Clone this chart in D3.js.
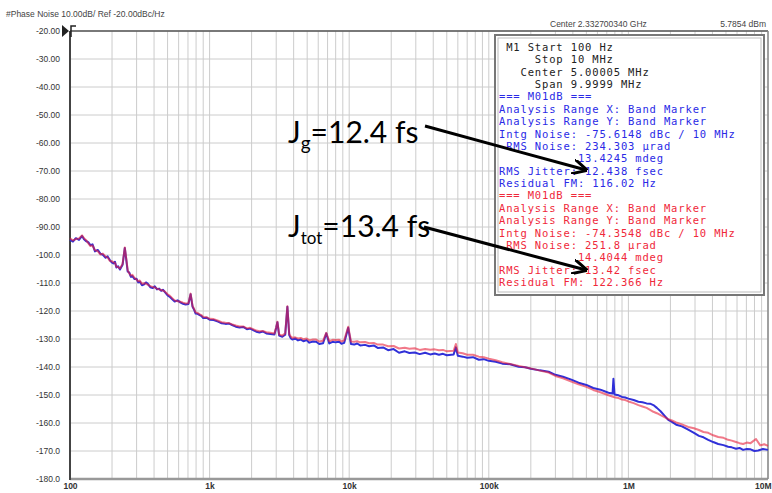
<!DOCTYPE html>
<html>
<head>
<meta charset="utf-8">
<script src="https://cdn.jsdelivr.net/npm/d3@7"></script>
<style>
  body { margin: 0; background: #fff; }
  svg { display: block; }
</style>
</head>
<body>
<div id="chart"></div>
<script>
// phase noise trace, 100 Hz .. 10 MHz offset, two measurements

var xTicks = [100, 1e3, 1e4, 1e5, 1e6, 1e7]
var xTickLabels = ["100", "1k", "10k", "100k", "1M", "10M"]
var yTicks = [-20, -30, -40, -50, -60, -70, -80, -90, -100, -110, -120, -130, -140, -150, -160, -170, -180]
var yTickLabels = ["-20.00", "-30.00", "-40.00", "-50.00", "-60.00", "-70.00", "-80.00", "-90.00",
  "-100.0", "-110.0", "-120.0", "-130.0", "-140.0", "-150.0", "-160.0", "-170.0", "-180.0"]

// [offset freq Hz, dBc/Hz]
var blueTrace = [[100,-94.5],[105,-95.2],[110,-94],[116,-94.6],[122,-93.2],[126,-94.4],[130,-95],[135,-95.4],
  [140,-96.5],[145,-96.2],[151,-98.7],[158,-98.2],[165,-99.5],[172,-99.9],[180,-101],[186,-100.5],
  [193,-101.8],[199,-102.6],[205,-103],[210,-102.4],[215,-104.5],[221,-104],[228,-105.2],[238,-103.5],
  [247,-97.5],[252,-101],[259,-105.9],[266,-106.3],[273,-107.8],[280,-107.5],[290,-108.6],[300,-108.5],
  [308,-109.8],[316,-109.5],[328,-110.8],[340,-110.5],[350,-109.8],[360,-110.2],[376,-111.5],[392,-111.8],
  [405,-111.2],[420,-112.3],[435,-112],[450,-112.8],[463,-112.4],[477,-113.2],[500,-114.4],[520,-115],
  [540,-115.8],[562,-116.6],[590,-116.2],[620,-117],[645,-117.4],[674,-117.7],[705,-117.5],[731,-114],
  [755,-118.5],[775,-119.6],[794,-120.9],[820,-121],[850,-121.5],[875,-121.8],[900,-122.5],[950,-122.4],
  [1000,-123.1],[1070,-123.2],[1150,-123.8],[1220,-124.4],[1300,-124.6],[1380,-124.5],[1450,-125],
  [1540,-125.6],[1638,-125.9],[1740,-125.7],[1850,-126.5],[1950,-126.3],[2050,-126.8],[2160,-127.4],
  [2276,-127.7],[2400,-127.3],[2550,-128],[2720,-128.2],[2913,-128.4],[3000,-126],[3060,-124],
  [3150,-128.8],[3320,-129.2],[3480,-128.5],[3607,-118.5],[3720,-128.6],[3810,-129.7],[3917,-130.2],
  [4100,-129.8],[4300,-130.5],[4500,-130.2],[4700,-130.8],[4950,-130.4],[5179,-131.3],[5500,-130.9],
  [5800,-131],[6100,-131.8],[6500,-131.5],[6850,-128],[7200,-131.6],[7600,-131],[8000,-131.2],
  [8483,-131],[8800,-131.7],[9200,-131.4],[9840,-126],[10300,-131.8],[10860,-132],[11400,-131.6],
  [12000,-132.3],[13000,-132.1],[13895,-132.6],[15000,-132.3],[16000,-133.2],[17500,-133],[19000,-134],
  [20800,-133.6],[22758,-134.9],[25000,-134.4],[27000,-135],[29500,-134.8],[32000,-135.4],[35000,-134.9],
  [38000,-135.5],[41000,-135.2],[43940,-135.6],[47000,-135.3],[50000,-135.8],[56000,-135.5],[58090,-133],
  [60000,-136],[65000,-136.3],[70000,-136.7],[77000,-136.5],[84830,-137.4],[92000,-137.2],[100000,-137.8],
  [112000,-138.1],[125000,-138.8],[142000,-139],[163800,-139.9],[182000,-140.1],[200000,-140.6],
  [232000,-141.2],[268300,-141.7],[300000,-142.8],[340000,-143.5],[390000,-144.5],[439400,-145.6],
  [500000,-146.4],[560000,-147.5],[630000,-148.1],[719700,-149.2],[770000,-149.5],[781000,-144.2],
  [795000,-149.8],[850000,-150.1],[900000,-150.7],[950000,-150.9],[1.0e6,-151.3],[1.09e6,-151.8],
  [1.18e6,-152.4],[1.26e6,-152.6],[1.35e6,-153],[1.43e6,-153.1],[1.51e6,-153.6],[1.6e6,-154.6],
  [1.7e6,-155.8],[1.8e6,-157.2],[1.93e6,-158.9],[2.05e6,-159.6],[2.2e6,-160.6],[2.42e6,-161.2],
  [2.68e6,-162.4],[2.95e6,-163.5],[3.2e6,-164.6],[3.45e6,-165.1],[3.73e6,-166],[4.05e6,-166.8],
  [4.4e6,-167.5],[4.8e6,-167.9],[5.18e6,-168.5],[5.5e6,-168.7],[5.9e6,-169.2],[6.25e6,-168.9],
  [6.63e6,-169.6],[7.05e6,-169.3],[7.5e6,-169.4],[8e6,-170],[8.5e6,-169.8],[9.2e6,-169.3],[1e7,-169.6]]

var redTrace = [[100,-94],[105,-94.8],[110,-94.3],[116,-94.1],[122,-93],[126,-94],[130,-94.6],[135,-95.8],
  [140,-96.8],[145,-96.6],[151,-98.3],[158,-98.6],[165,-99.8],[172,-99.5],[180,-100.6],[186,-100.9],
  [193,-102.1],[199,-102.2],[205,-102.6],[210,-102.8],[215,-104.2],[221,-104.3],[228,-104.8],[238,-103.2],
  [247,-97.3],[252,-100.6],[259,-105.5],[266,-106.6],[273,-107.4],[280,-107.1],[290,-108.2],[300,-108.8],
  [308,-109.4],[316,-109.1],[328,-110.3],[340,-110.1],[350,-110.2],[360,-110.6],[376,-111.1],[392,-111.4],
  [405,-111.6],[420,-112],[435,-112.3],[450,-112.5],[463,-112.7],[477,-113],[500,-114],[520,-114.6],
  [540,-115.4],[562,-116.2],[590,-116.5],[620,-116.7],[645,-117],[674,-117.3],[705,-117.2],[731,-113.8],
  [755,-118.2],[775,-119.3],[794,-120.5],[820,-120.7],[850,-121.2],[875,-121.5],[900,-122.1],[950,-122.2],
  [1000,-122.8],[1070,-122.9],[1150,-123.5],[1220,-124],[1300,-124.2],[1380,-124.3],[1450,-124.8],
  [1540,-125.2],[1638,-125.5],[1740,-125.5],[1850,-126.2],[1950,-126],[2050,-126.5],[2160,-127],
  [2276,-127.2],[2400,-127.1],[2550,-127.6],[2720,-127.8],[2913,-128],[3000,-125.8],[3060,-123.8],
  [3150,-128.4],[3320,-128.8],[3480,-128],[3607,-118.3],[3720,-128.2],[3810,-129.1],[3917,-129.6],
  [4100,-129.4],[4300,-129.8],[4500,-129.6],[4700,-130.1],[4950,-129.8],[5179,-130.5],[5500,-130.2],
  [5800,-130.2],[6100,-130.9],[6500,-130.6],[6850,-127.8],[7200,-130.8],[7600,-130.3],[8000,-130.4],
  [8483,-130.3],[8800,-130.9],[9200,-130.5],[9840,-125.6],[10300,-130.9],[10860,-131],[11400,-130.8],
  [12000,-131.2],[13000,-131.1],[13895,-131.5],[15000,-131.4],[16000,-132],[17500,-132],[19000,-132.6],
  [20800,-132.5],[22758,-133.4],[25000,-133.1],[27000,-133.5],[29500,-133.3],[32000,-133.9],[35000,-133.6],
  [38000,-133.8],[41000,-133.7],[43940,-134],[47000,-133.9],[50000,-134.4],[56000,-134.2],[58090,-131.8],
  [60000,-134.8],[65000,-135.1],[70000,-135.6],[77000,-135.6],[84830,-136.3],[92000,-136.5],[100000,-137],
  [112000,-137.6],[125000,-138.3],[142000,-138.9],[163800,-139.6],[182000,-140.1],[200000,-140.5],
  [232000,-141.3],[268300,-142],[300000,-143.2],[340000,-144],[390000,-145.2],[439400,-146.2],
  [500000,-147.1],[560000,-148.2],[630000,-149],[719700,-150.1],[795000,-150.8],[850000,-151.1],
  [900000,-151.6],[950000,-151.8],[1.0e6,-152.3],[1.09e6,-152.9],[1.18e6,-153.6],[1.26e6,-154.1],
  [1.35e6,-154.6],[1.43e6,-155.3],[1.51e6,-156],[1.6e6,-156.5],[1.7e6,-157.2],[1.8e6,-157.8],
  [1.93e6,-158.6],[2.05e6,-159.1],[2.2e6,-159.8],[2.42e6,-160.5],[2.68e6,-161.4],[2.95e6,-161.9],
  [3.2e6,-162.5],[3.45e6,-163.2],[3.73e6,-163.5],[4.05e6,-164.4],[4.4e6,-165],[4.8e6,-165.3],
  [5.18e6,-166],[5.5e6,-166.3],[5.9e6,-166.8],[6.25e6,-167.2],[6.63e6,-167.5],[7.05e6,-167],
  [7.5e6,-167.2],[8.2e6,-165.7],[8.8e6,-168],[9.4e6,-167.6],[1e7,-168.2]]

var infoBlack = [" M1 Start 100 Hz", "     Stop 10 MHz", "   Center 5.00005 MHz", "     Span 9.9999 MHz"]
var infoBlue = ["=== M01dB ===", "Analysis Range X: Band Marker", "Analysis Range Y: Band Marker",
  "Intg Noise: -75.6148 dBc / 10 MHz", " RMS Noise: 234.303 \u00b5rad", "           13.4245 mdeg",
  "RMS Jitter: 12.438 fsec", "Residual FM: 116.02 Hz"]
var infoRed = ["=== M01dB ===", "Analysis Range X: Band Marker", "Analysis Range Y: Band Marker",
  "Intg Noise: -74.3548 dBc / 10 MHz", " RMS Noise: 251.8 \u00b5rad", "           14.4044 mdeg",
  "RMS Jitter: 13.42 fsec", "Residual FM: 122.366 Hz"]

var W = 772, H = 493
var plotLeft = 70, plotRight = 768, plotTop = 31, plotBottom = 479
var gridColor = "#cccccc"

var svg = d3.select("#chart").append("svg")
  .attr("width", W)
  .attr("height", H)

var x = d3.scaleLog().domain([100, 1e7]).range([plotLeft, plotRight])
var y = d3.scaleLinear().domain([-180, -20]).range([plotBottom, plotTop])

// grid lines: every 1..9 within each decade
var minor = []
for (var d = 100; d < 1e7; d *= 10) {
  for (var k = 1; k < 10; k++) minor.push(d * k)
}
minor.push(1e7)

svg.append("g").selectAll("line").data(minor).join("line")
  .attr("x1", d => x(d)).attr("x2", d => x(d))
  .attr("y1", plotTop).attr("y2", plotBottom)
  .style("stroke", gridColor)
  .style("stroke-width", 1)

svg.append("g").selectAll("line").data(yTicks).join("line")
  .attr("x1", plotLeft).attr("x2", plotRight)
  .attr("y1", d => y(d)).attr("y2", d => y(d))
  .style("stroke", gridColor)
  .style("stroke-width", 1)

// frame
svg.append("line").attr("x1", plotLeft).attr("x2", plotRight).attr("y1", plotTop).attr("y2", plotTop)
  .style("stroke", "#555").style("stroke-width", 1.5)
svg.append("line").attr("x1", plotLeft).attr("x2", plotRight).attr("y1", plotBottom).attr("y2", plotBottom)
  .style("stroke", "#999").style("stroke-width", 2.5)
svg.append("line").attr("x1", plotLeft).attr("x2", plotLeft).attr("y1", plotTop).attr("y2", plotBottom + 1)
  .style("stroke", "#444").style("stroke-width", 2)
svg.append("line").attr("x1", plotRight).attr("x2", plotRight).attr("y1", plotTop).attr("y2", plotBottom)
  .style("stroke", "#888").style("stroke-width", 1.5)

// reference level marker
svg.append("path")
  .attr("d", `M${plotLeft - 8},${y(-20) - 6} L${plotLeft - 1},${y(-20)} L${plotLeft - 8},${y(-20) + 6} Z`)
  .style("fill", "#222")
svg.append("path")
  .attr("d", `M${plotLeft + 1},${y(-20) + 6} L${plotLeft + 1},${y(-20) - 5} L${plotLeft + 6},${y(-20) - 5}`)
  .style("fill", "none").style("stroke", "#222").style("stroke-width", 1.5)

// axes (labels only)
var yAxis = d3.axisLeft(y).tickValues(yTicks).tickSize(0).tickPadding(10)
  .tickFormat((d, i) => yTickLabels[i])
var gy = svg.append("g").attr("transform", `translate(${plotLeft},0)`).call(yAxis)
gy.select(".domain").remove()
gy.selectAll("text").style("font-family", "Liberation Sans, Arial, sans-serif")
  .style("font-size", "8.5px").style("fill", "#333")

var xAxis = d3.axisBottom(x).tickValues(xTicks).tickSize(0).tickPadding(4)
  .tickFormat((d, i) => xTickLabels[i])
var gx = svg.append("g").attr("transform", `translate(0,${plotBottom})`).call(xAxis)
gx.select(".domain").remove()
gx.selectAll("text").style("font-family", "Liberation Sans, Arial, sans-serif")
  .style("font-size", "8.5px").style("font-weight", "bold").style("fill", "#333")
// last label would run off the page edge
gx.selectAll(".tick").filter(d => d === 1e7).select("text").attr("text-anchor", "end").attr("x", 3)

// header texts
svg.append("text").attr("x", 6).attr("y", 17)
  .text("#Phase Noise 10.00dB/ Ref -20.00dBc/Hz")
  .style("font-family", "Liberation Sans, Arial, sans-serif").style("font-size", "8.5px").style("fill", "#444")
svg.append("text").attr("x", 550).attr("y", 27)
  .text("Center 2.332700340 GHz")
  .style("font-family", "Liberation Sans, Arial, sans-serif").style("font-size", "8.5px").style("fill", "#444")
svg.append("text").attr("x", 766).attr("y", 27).attr("text-anchor", "end")
  .text("5.7854 dBm")
  .style("font-family", "Liberation Sans, Arial, sans-serif").style("font-size", "8.5px").style("fill", "#444")

// traces
var line = d3.line().x(d => x(d[0])).y(d => y(d[1]))
var plot = svg.append("g")
plot.append("path").datum(blueTrace).attr("d", line)
  .style("fill", "none").style("stroke", "#3030d8").style("stroke-width", 2)
  .style("stroke-linejoin", "round")
plot.append("path").datum(redTrace).attr("d", line)
  .style("fill", "none").style("stroke", "#e8203a").style("stroke-width", 2).style("opacity", 0.6)
  .style("stroke-linejoin", "round")

// marker info box
var boxX = 495, boxY = 35, boxW = 269, boxH = 260
svg.append("rect").attr("x", boxX).attr("y", boxY).attr("width", boxW).attr("height", boxH)
  .style("fill", "#fff").style("stroke", "#777").style("stroke-width", 2)
svg.append("rect").attr("x", boxX + 3).attr("y", boxY + 3).attr("width", boxW - 6).attr("height", boxH - 6)
  .style("fill", "none").style("stroke", "#bbb").style("stroke-width", 1)

var infoLines = []
infoBlack.forEach(t => infoLines.push({ t: t, c: "#222" }))
infoBlue.forEach(t => infoLines.push({ t: t, c: "#2a2ae6" }))
infoRed.forEach(t => infoLines.push({ t: t, c: "#f0283a" }))

svg.append("g").selectAll("text").data(infoLines).join("text")
  .attr("x", 499)
  .attr("y", (d, i) => 51 + i * 12.37)
  .attr("xml:space", "preserve")
  .text(d => d.t)
  .style("white-space", "pre")
  .style("font-family", "DejaVu Sans Mono, monospace")
  .style("font-size", "10.5px")
  .style("letter-spacing", "0.85px")
  .style("fill", d => d.c)

// annotations
svg.append("defs").append("marker")
  .attr("id", "arrow").attr("viewBox", "0 0 10 10")
  .attr("refX", 9).attr("refY", 5)
  .attr("markerWidth", 5).attr("markerHeight", 5)
  .attr("orient", "auto")
  .append("path").attr("d", "M0,0 L10,5 L0,10 M10,5 Z")
  .style("fill", "none").style("stroke", "#000").style("stroke-width", 2)

function note(tx, ty, main, sub, rest, subSize) {
  var t = svg.append("text").attr("x", tx).attr("y", ty)
    .style("font-family", "Lato, Carlito, Calibri, sans-serif").style("font-size", "30px").style("fill", "#000")
  t.append("tspan").text(main)
  t.append("tspan").text(sub).attr("dy", 7).style("font-size", subSize + "px")
  t.append("tspan").text(rest).attr("dy", -7)
}
note(288, 143, "J", "g", "=12.4 fs", 19)
note(288, 237, "J", "tot", "=13.4 fs", 17)

svg.append("line").attr("x1", 425).attr("y1", 126).attr("x2", 586).attr("y2", 170)
  .style("stroke", "#000").style("stroke-width", 3).attr("marker-end", "url(#arrow)")
svg.append("line").attr("x1", 424).attr("y1", 227).attr("x2", 586).attr("y2", 270)
  .style("stroke", "#000").style("stroke-width", 3).attr("marker-end", "url(#arrow)")
</script>
</body>
</html>
